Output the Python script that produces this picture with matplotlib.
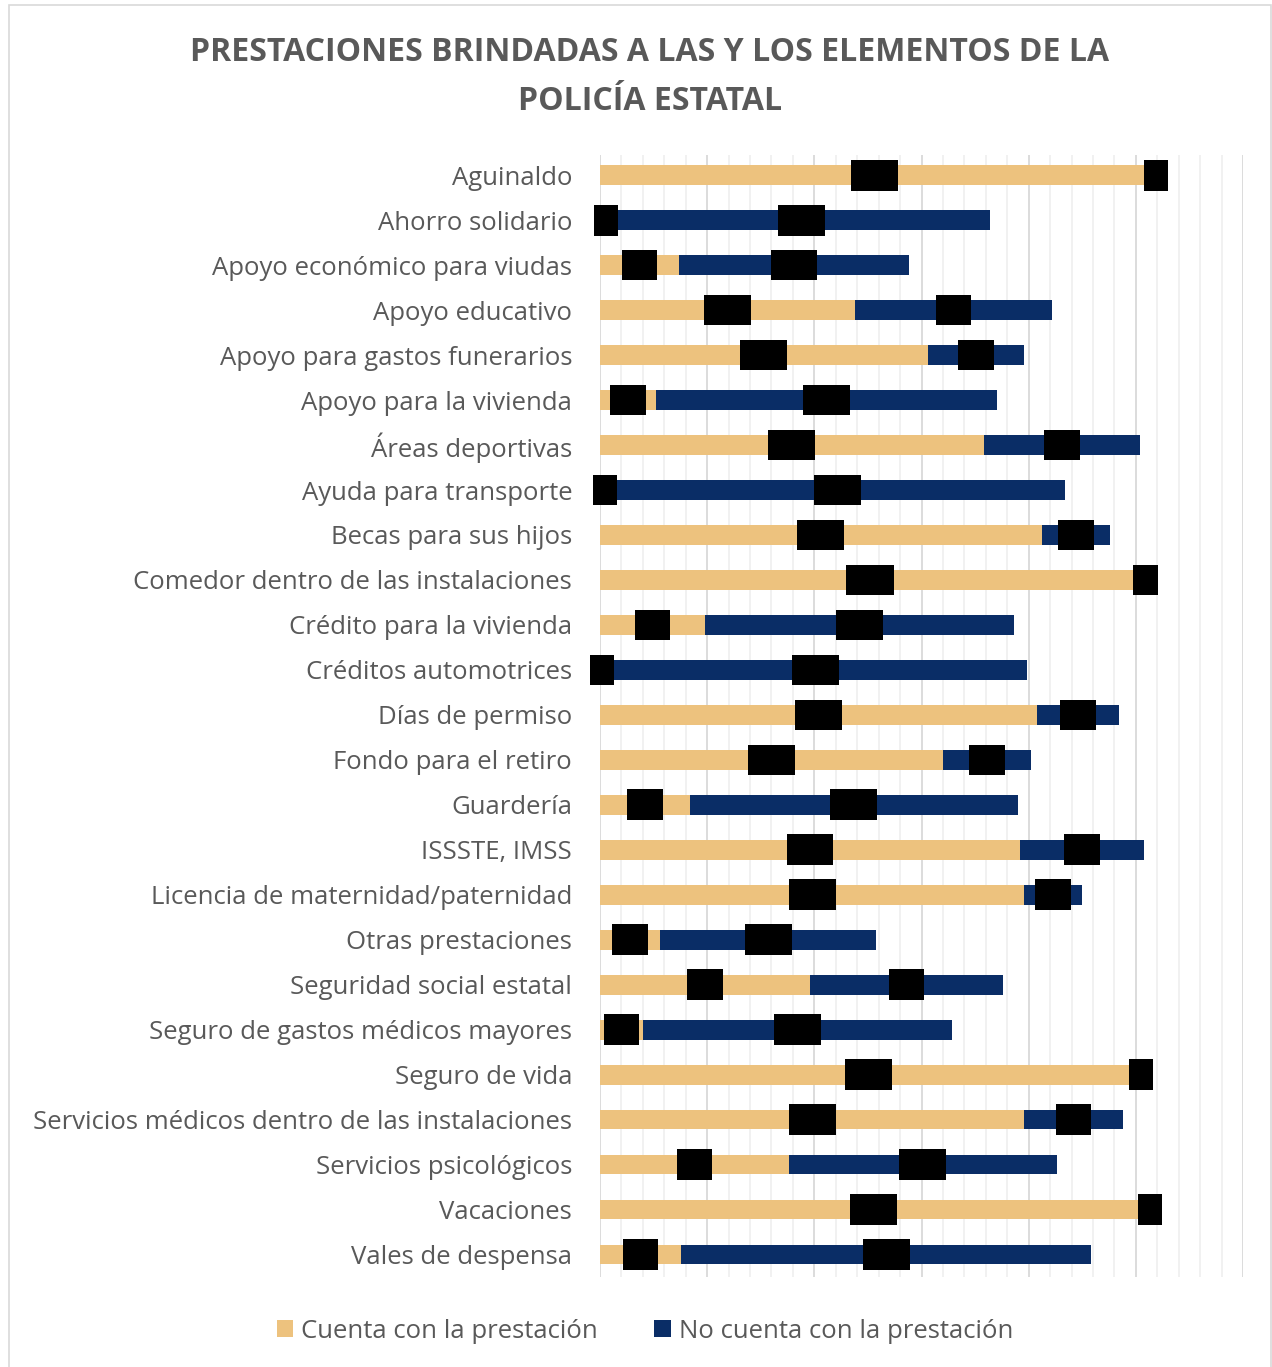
import matplotlib
matplotlib.use("Agg")
import matplotlib.pyplot as plt
from matplotlib.patches import Rectangle, Patch
from matplotlib.ticker import MultipleLocator
import numpy as np

categories = [
    "Aguinaldo",
    "Ahorro solidario",
    "Apoyo económico para viudas",
    "Apoyo educativo",
    "Apoyo para gastos funerarios",
    "Apoyo para la vivienda",
    "Áreas deportivas",
    "Ayuda para transporte",
    "Becas para sus hijos",
    "Comedor dentro de las instalaciones",
    "Crédito para la vivienda",
    "Créditos automotrices",
    "Días de permiso",
    "Fondo para el retiro",
    "Guardería",
    "ISSSTE, IMSS",
    "Licencia de maternidad/paternidad",
    "Otras prestaciones",
    "Seguridad social estatal",
    "Seguro de gastos médicos mayores",
    "Seguro de vida",
    "Servicios médicos dentro de las instalaciones",
    "Servicios psicológicos",
    "Vacaciones",
    "Vales de despensa",
]
cuenta = [256, 6, 37, 119, 153, 26, 179, 5, 206, 252, 49, 2, 204, 160, 42,
          196, 198, 28, 98, 20, 251, 198, 88, 255, 38]
no_cuenta = [7, 176, 107, 92, 45, 159, 73, 212, 32, 5, 144, 197, 38, 41, 153,
             58, 27, 101, 90, 144, 3, 46, 125, 3, 191]
series_names = ["Cuenta con la prestación", "No cuenta con la prestación"]
colors = ["#EDC27E", "#0A2D66"]
title = "PRESTACIONES BRINDADAS A LAS Y LOS ELEMENTOS DE LA\nPOLICÍA ESTATAL"

W, H = 1272, 1367
fig = plt.figure(figsize=(W / 100, H / 100), dpi=100)
fig.patches.append(Rectangle((9 / W, -0.01), (1271 - 9) / W, 1 - 5 / H + 0.01,
                             transform=fig.transFigure, fill=False,
                             edgecolor="#d9d9d9", linewidth=1.2, zorder=0))

ax = fig.add_axes([600 / W, 1 - 1277 / H, (1243 - 600) / W, (1277 - 155) / H])
y = np.arange(len(categories))
bh = 0.44
b1 = ax.barh(y, cuenta, height=bh, color=colors[0], label=series_names[0], zorder=3)
b2 = ax.barh(y, no_cuenta, left=cuenta, height=bh, color=colors[1],
             label=series_names[1], zorder=3)

for bars in (b1, b2):
    for r in bars:
        cx = r.get_x() + r.get_width() / 2
        cy = r.get_y() + r.get_height() / 2
        ax.text(cx, cy, f"{r.get_width():.0f}", ha="center", va="center",
                fontsize=13, color="black", zorder=5,
                bbox=dict(boxstyle="square,pad=0.35", fc="black", ec="none"))

ax.set_xlim(0, 300)
ax.set_ylim(len(categories) - 0.5, -0.45)
ax.xaxis.set_major_locator(MultipleLocator(50))
ax.xaxis.set_minor_locator(MultipleLocator(10))
ax.grid(axis="x", which="major", color="#d9d9d9", linewidth=1.3, zorder=0)
ax.grid(axis="x", which="minor", color="#f0f0f0", linewidth=1.3, zorder=0)
ax.set_axisbelow(True)
for s in ax.spines.values():
    s.set_visible(False)
ax.tick_params(axis="x", which="both", length=0, labelbottom=False)
ax.set_yticks(y)
ax.set_yticklabels(categories, fontsize=18.5, color="#595959", family="Open Sans")
ax.tick_params(axis="y", length=0, pad=20)

fig.text(650 / W, 1 - 77 / H, title, ha="center", va="center",
         fontsize=23, fontweight="bold", color="#595959", family="Open Sans",
         linespacing=1.65)

handles = [Patch(facecolor=c, edgecolor="none") for c in colors]
fig.legend(handles, series_names, loc="center", bbox_to_anchor=(645 / W, 1 - 1331 / H),
           ncol=2, frameon=False, prop={"family": "Open Sans", "size": 18.5},
           labelcolor="#595959", handlelength=0.65, handleheight=0.65,
           handletextpad=0.3, columnspacing=2.2)

fig.savefig("out.png", dpi=100)
